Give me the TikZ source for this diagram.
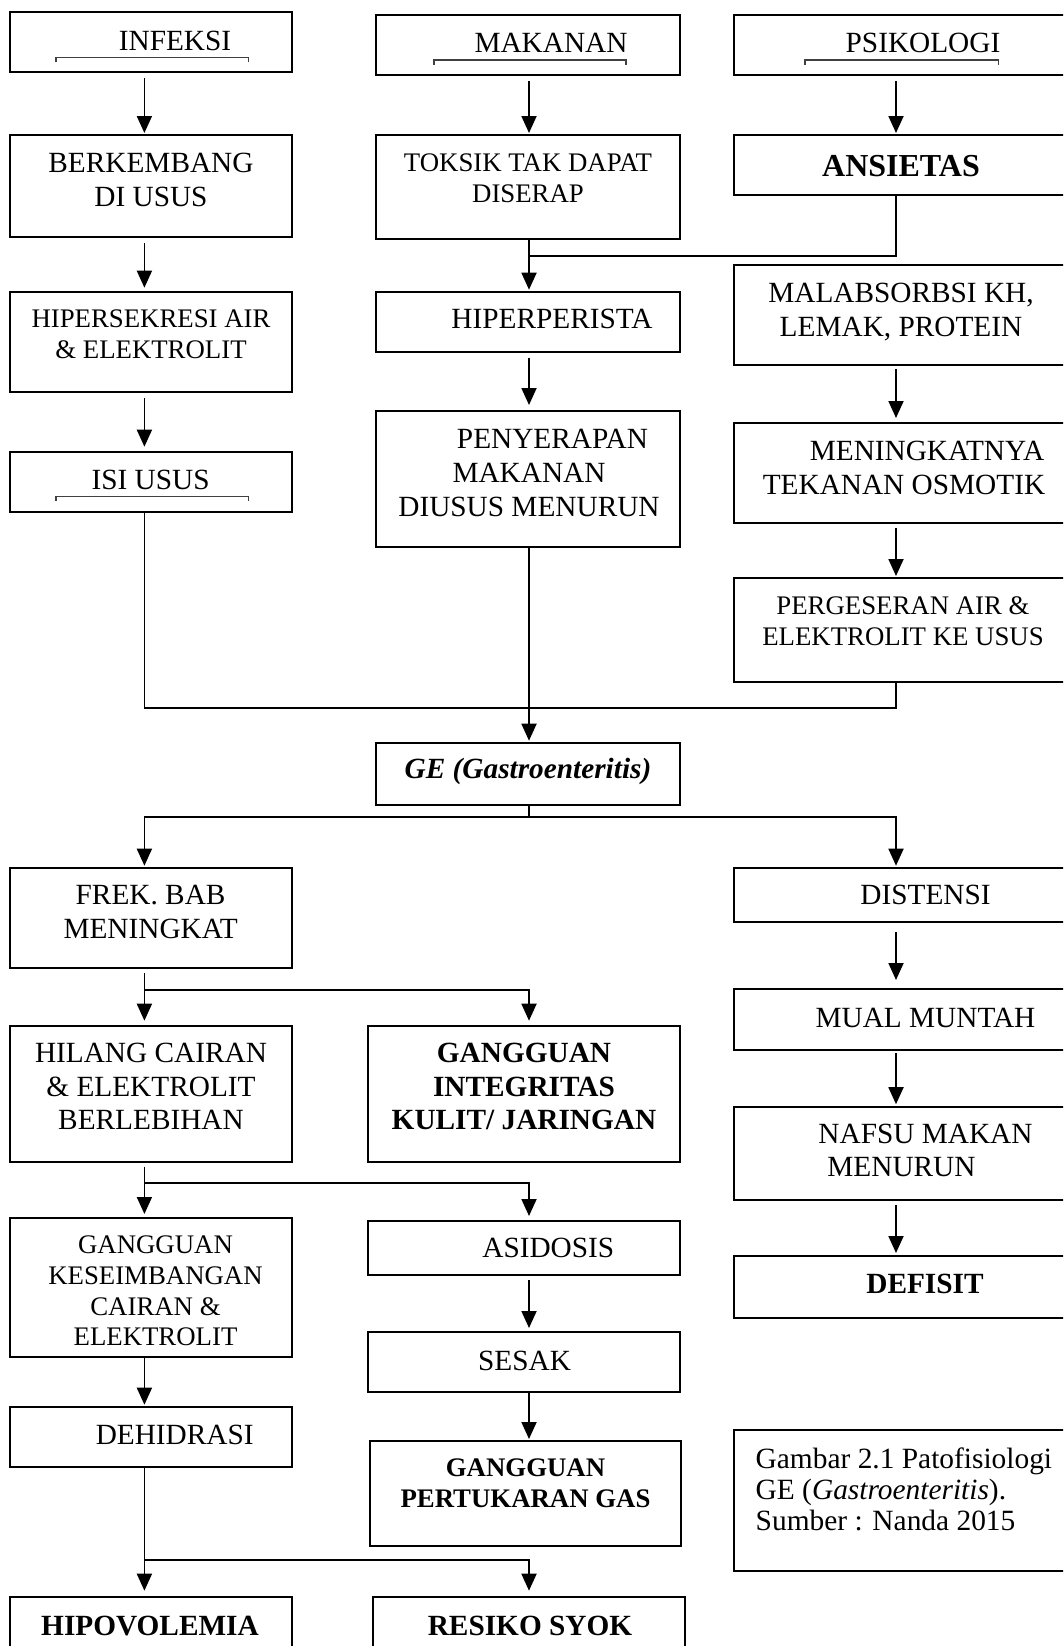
\documentclass[tikz,border=0pt]{standalone}
\usepackage{fontspec}
\setmainfont{Liberation Serif}
\usetikzlibrary{arrows.meta}

\begin{document}
\begin{tikzpicture}[x=1pt, y=-1pt,
    box/.style ={rectangle, draw, line width=2pt, inner sep=0pt, minimum width=281.5pt},
    boxM/.style ={box, minimum width=304pt},
    boxR/.style ={box, minimum width=336pt},
    txt/.style ={align=center, inner sep=0pt, font=\fontsize{29.3}{33.6}\selectfont},
    txtS/.style ={txt, font=\fontsize{26.8}{30.8}\selectfont},
    txtB/.style ={txt, font=\fontsize{29.3}{33.6}\selectfont\bfseries},
    link/.style ={line width=1.8pt},
    arr/.style ={link, -{Triangle[length=17pt,width=15pt]}, shorten <=5pt, shorten >=2pt},
    ulbar/.style ={line width=1.2pt, draw=black!75}]
   \useasboundingbox[fill=white] (0,0) rectangle (1063,1646);
   \clip (0,0) rectangle (1063,1646);

   % column axes and junctions
   \coordinate (axL) at (144.4,0);
   \coordinate (axM) at (529,0);
   \coordinate (axR) at (896,0);
   \coordinate (jA) at (529,256);
   \coordinate (jB) at (529,708);
   \coordinate (jC) at (529,817);
   \coordinate (jD) at (144.4,990);
   \coordinate (jE) at (144.4,1183.3);
   \coordinate (jF) at (144.4,1560);

   % left column
   \node[box, minimum height=60pt] (infeksi) at (150.75,41.7) {};
   \node[box, minimum height=102pt] (berkembang) at (150.75,186) {};
   \node[box, minimum height=100pt] (hipersekresi) at (150.75,341.7) {};
   \node[box, minimum height=60pt] (isiusus) at (150.75,481.7) {};
   \node[box, minimum height=100.3pt] (frek) at (150.75,917.85) {};
   \node[box, minimum height=136pt] (hilang) at (150.75,1093.7) {};
   \node[box, minimum height=139.3pt] (keseimbangan) at (150.75,1287.65) {};
   \node[box, minimum height=60pt] (dehidrasi) at (150.75,1436.7) {};
   \node[box, minimum height=63.3pt] (hipovolemia) at (150.75,1628.35) {};

   % middle column
   \node[boxM, minimum height=60pt] (makanan) at (528,45) {};
   \node[boxM, minimum height=104pt] (toksik) at (528,187) {};
   \node[boxM, minimum height=60pt] (hiperperista) at (528,321.7) {};
   \node[boxM, minimum height=135.7pt] (penyerapan) at (528,478.85) {};
   \node[boxM, minimum height=61.8pt] (ge) at (528,773.6) {};
   \node[boxM, minimum width=312.5pt, minimum height=136pt] (integritas) at (523.75,1093.7) {};
   \node[boxM, minimum width=312.5pt, minimum height=54pt] (asidosis) at (523.75,1248) {};
   \node[boxM, minimum width=312.5pt, minimum height=59.5pt] (sesak) at (523.75,1361.75) {};
   \node[boxM, minimum width=311.5pt, minimum height=104.5pt] (pertukaran) at (525.25,1493.25) {};
   \node[boxM, minimum width=311.8pt, minimum height=63.3pt] (resiko) at (528.8,1628.35) {};

   % right column
   \node[boxR, minimum height=60pt] (psikologi) at (902,45) {};
   \node[boxR, minimum height=60pt] (ansietas) at (902,165) {};
   \node[boxR, minimum height=100pt] (malabsorbsi) at (902,315) {};
   \node[boxR, minimum height=100.3pt] (meningkat) at (902,473.15) {};
   \node[boxR, minimum height=103.5pt] (pergeseran) at (902,629.75) {};
   \node[boxR, minimum height=54.3pt] (distensi) at (902,894.85) {};
   \node[boxR, minimum height=60.5pt] (mual) at (902,1019.25) {};
   \node[boxR, minimum height=92.8pt] (nafsu) at (902,1153.1) {};
   \node[boxR, minimum height=62.3pt] (defisit) at (902,1287.15) {};
   \node[boxR, minimum height=140.7pt] (caption) at (902,1500.35) {};

   % texts
   \node[txt] (tInfeksi) at (175,41) {INFEKSI};
   \node[txt] (tMakanan) at (551,42.5) {MAKANAN};
   \node[txt] (tPsikologi) at (923,42.5) {PSIKOLOGI};
   \node[txt] (tBerkembang) at (151,180) {BERKEMBANG\\DI USUS};
   \node[txtS] (tToksik) at (528,178) {TOKSIK TAK DAPAT\\DISERAP};
   \node[txtB, font=\fontsize{32}{36}\selectfont\bfseries] (tAnsietas) at (901,166) {ANSIETAS};
   \node[txtS] (tHipersekresi) at (151,334) {HIPERSEKRESI AIR\\\& ELEKTROLIT};
   \node[txt] (tHiperperista) at (552,319) {HIPERPERISTA};
   \node[txt] (tMalabsorbsi) at (901,312) {MALABSORBSI KH,\\LEMAK, PROTEIN};
   \node[txt] (tIsiusus) at (150.6,479.5) {ISI USUS};
   \node[txt] (tPenyerapan) at (529,473) {\hspace*{47pt}PENYERAPAN\\MAKANAN\hspace*{30pt}\\DIUSUS MENURUN};
   \node[txt] (tMeningkat) at (904,468) {\hspace*{46pt}MENINGKATNYA\\TEKANAN OSMOTIK};
   \node[txtS] (tPergeseran) at (903,621) {PERGESERAN AIR \&\\ELEKTROLIT KE USUS};
   \node[txt, font=\fontsize{29.3}{33.6}\selectfont\bfseries\itshape] (tGe) at (528,771) {GE (Gastroenteritis)};
   \node[txt] (tFrek) at (150.6,912) {FREK. BAB\\MENINGKAT};
   \node[txt] (tDistensi) at (925.5,894.5) {DISTENSI};
   \node[txt] (tHilang) at (151,1086.6) {HILANG CAIRAN\\\& ELEKTROLIT\\BERLEBIHAN};
   \node[txtB] (tIntegritas) at (524,1086.6) {GANGGUAN\\INTEGRITAS\\KULIT/ JARINGAN};
   \node[txt] (tMual) at (925.5,1018) {MUAL MUNTAH};
   \node[txt] (tNafsu) at (925.5,1150.5) {NAFSU MAKAN\\MENURUN\hspace*{48pt}};
   \node[txtS] (tKeseimbangan) at (155.5,1291) {GANGGUAN\\KESEIMBANGAN\\CAIRAN \&\\ELEKTROLIT};
   \node[txt] (tAsidosis) at (548.3,1248) {ASIDOSIS};
   \node[txtB] (tDefisit) at (925,1283.5) {DEFISIT};
   \node[txt] (tSesak) at (524.6,1360.5) {SESAK};
   \node[txt] (tDehidrasi) at (174.7,1435) {DEHIDRASI};
   \node[txtB, font=\fontsize{26.8}{30.8}\selectfont\bfseries] (tPertukaran) at (525.5,1483) {GANGGUAN\\PERTUKARAN GAS};
   \node[txt, align=left, anchor=north west, font=\fontsize{29.4}{30.8}\selectfont] (tCaption) at (755.5,1448)
      {Gambar 2.1 Patofisiologi\\GE (\textit{Gastroenteritis}).\\Sumber : Nanda 2015};
   \node[txtB] (tHipovolemia) at (150,1626) {HIPOVOLEMIA};
   \node[txtB] (tResiko) at (530,1626) {RESIKO SYOK};

   % small bars under the first texts
   \draw[ulbar] (56,61.7) -- (56,57.3) -- (248.3,57.3) -- (248.3,61.7);
   \draw[ulbar] (434,65) -- (434,60) -- (626,60) -- (626,65);
   \draw[ulbar] (805,65) -- (805,60) -- (998.6,60) -- (998.6,65);
   \draw[ulbar] (56,501) -- (56,496.7) -- (248.3,496.7) -- (248.3,501);

   % connectors, top part
   \draw[arr, shorten >=1pt] (infeksi.south -| axL) -- (berkembang.north -| axL);
   \draw[arr, shorten >=1pt] (makanan.south -| axM) -- (toksik.north -| axM);
   \draw[arr, shorten >=1pt] (psikologi.south -| axR) -- (ansietas.north -| axR);
   \draw[arr, shorten >=3pt] (berkembang.south -| axL) -- (hipersekresi.north -| axL);
   \draw[line width=1.1pt] (ansietas.south -| axR) |- (jA);
   \draw[arr, shorten <=0pt, shorten >=1pt] (toksik.south -| axM) -- (hiperperista.north -| axM);
   \draw[arr, shorten >=4pt] (hipersekresi.south -| axL) -- (isiusus.north -| axL);
   \draw[arr, shorten >=5pt] (hiperperista.south -| axM) -- (penyerapan.north -| axM);
   \draw[arr, shorten <=3pt, shorten >=4pt] (malabsorbsi.south -| axR) -- (meningkat.north -| axR);
   \draw[arr, shorten <=4pt, shorten >=1pt] (meningkat.south -| axR) -- (pergeseran.north -| axR);
   \draw[link] (isiusus.south -| axL) |- (jB) -| (pergeseran.south -| axR);
   \draw[arr, shorten <=0pt, shorten >=1pt] (penyerapan.south -| axM) -- (ge.north -| axM);

   % connectors, lower part
   \draw[arr, shorten <=0pt, shorten >=1pt] (ge.south -| axM) -- (jC) -| (frek.north -| axL);
   \draw[arr, shorten <=0pt, shorten >=1pt] (ge.south -| axM) -- (jC) -| (distensi.north -| axR);
   \draw[arr, shorten <=4pt, shorten >=4pt] (frek.south -| axL) -- (hilang.north -| axL);
   \draw[arr, shorten <=0pt, shorten >=4pt] (jD) -| (integritas.north -| axM);
   \draw[arr, shorten <=9pt, shorten >=8pt] (distensi.south -| axR) -- (mual.north -| axR);
   \draw[arr, shorten <=2pt, shorten >=1.5pt] (mual.south -| axR) -- (nafsu.north -| axR);
   \draw[arr, shorten <=4pt, shorten >=3pt] (hilang.south -| axL) -- (keseimbangan.north -| axL);
   \draw[arr, shorten <=0pt, shorten >=4pt] (jE) -| (asidosis.north -| axM);
   \draw[arr, shorten <=4pt, shorten >=2pt] (nafsu.south -| axR) -- (defisit.north -| axR);
   \draw[arr, shorten <=4pt, shorten >=3pt] (asidosis.south -| axM) -- (sesak.north -| axM);
   \draw[arr, shorten <=0pt, shorten >=1pt] (keseimbangan.south -| axL) -- (dehidrasi.north -| axL);
   \draw[arr, shorten <=0pt, shorten >=1pt] (sesak.south -| axM) -- (pertukaran.north -| axM);
   \draw[arr, shorten <=0pt, shorten >=5pt] (dehidrasi.south -| axL) -- (hipovolemia.north -| axL);
   \draw[arr, shorten <=0pt, shorten >=5pt] (jF) -| (resiko.north -| axM);
\end{tikzpicture}
\end{document}
